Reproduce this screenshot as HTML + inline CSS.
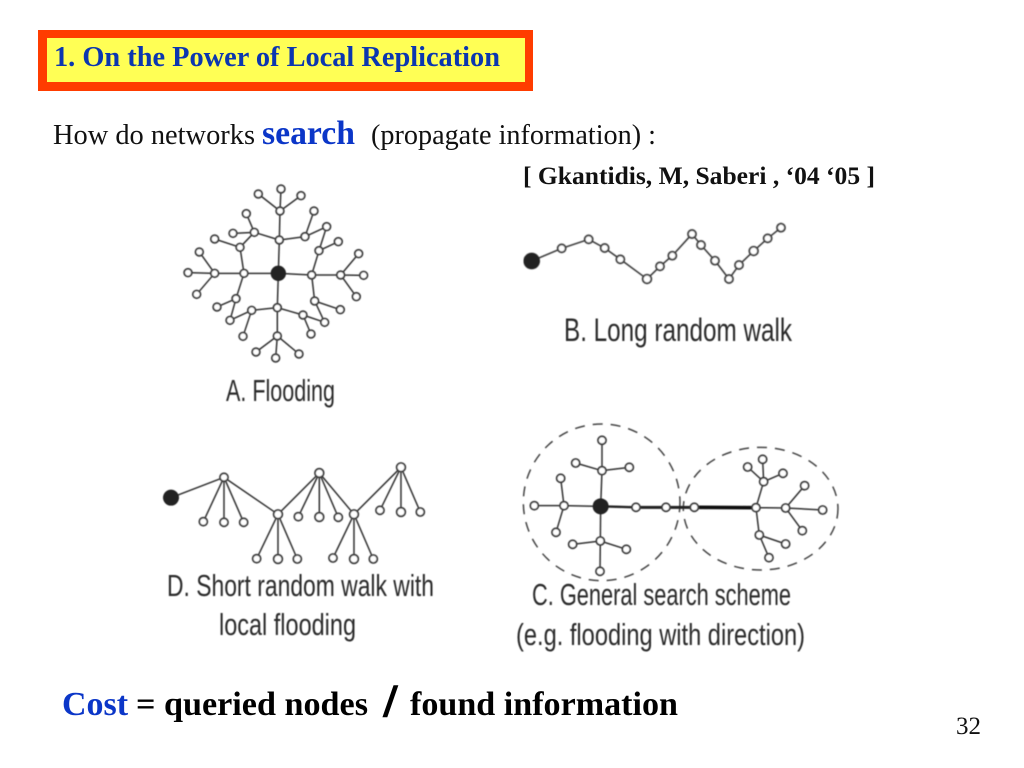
<!DOCTYPE html>
<html><head><meta charset="utf-8"><style>
html,body{margin:0;padding:0;background:#fff;width:1024px;height:768px;overflow:hidden}
svg{display:block}
.s{font-family:"Liberation Serif",serif}
.l{font-family:"Liberation Sans",sans-serif;fill:#2b2b2b}
.e{stroke:#333;stroke-width:4.5;fill:none}
.n{fill:#fff;stroke:#3c3c3c;stroke-width:5.5}
</style></head><body>
<svg width="1024" height="768" viewBox="0 0 1024 768" xmlns="http://www.w3.org/2000/svg">
<defs><filter id="b" x="-5%" y="-5%" width="110%" height="110%"><feGaussianBlur stdDeviation="0.55"/></filter></defs>
<rect width="1024" height="768" fill="#fff"/>
<rect x="38" y="30" width="495" height="61" fill="#ff3c00"/>
<rect x="47" y="38" width="478" height="44" fill="#ffff55"/>
<text class="s" x="54" y="66" font-size="28" font-weight="bold" fill="#0b36b0" textLength="446" lengthAdjust="spacingAndGlyphs">1. On the Power of Local Replication</text>
<text class="s" x="53" y="144" font-size="28" fill="#111" textLength="202" lengthAdjust="spacingAndGlyphs">How do networks</text>
<text class="s" x="262" y="144" font-size="33.5" font-weight="bold" fill="#0b36c8" textLength="93" lengthAdjust="spacingAndGlyphs">search</text>
<text class="s" x="371" y="144" font-size="28" fill="#111" textLength="285" lengthAdjust="spacingAndGlyphs">(propagate information) :</text>
<text class="s" x="523" y="184" font-size="25" font-weight="bold" fill="#111" textLength="352" lengthAdjust="spacingAndGlyphs">[ Gkantidis, M, Saberi , ‘04 ‘05 ]</text>

<g filter="url(#b)">
<!-- A -->
<g transform="translate(170,175) scale(.3333)">
<path class="e" d="M325 295L328 195M325 295L222 295M325 295L425 300M325 295L322 398M328 195L330 108M330 108L265 57M330 108L333 42M330 108L393 62M328 195L253 172M253 172L229 116M253 172L189 175M253 172L210 217M210 217L134 192M222 295L210 217M328 195L405 185M405 185L432 108M405 185L470 155M470 155L447 227M447 227L505 200M447 227L425 300M222 295L134 295M134 295L88 231M134 295L54 293M134 295L80 358M222 295L198 371M198 371L141 396M198 371L180 436M180 436L245 406M245 406L322 398M245 406L219 484M425 300L512 300M512 300L566 236M512 300L581 301M512 300L559 365M425 300L434 378M434 378L511 404M434 378L464 442M464 442L399 420M399 420L322 398M399 420L423 477M322 398L322 483M322 483L258 531M322 483L317 549M322 483L387 537"/>
<g class="n">
<circle cx="328" cy="195" r="11.5"/><circle cx="222" cy="295" r="11.5"/><circle cx="425" cy="300" r="11.5"/><circle cx="322" cy="398" r="11.5"/><circle cx="330" cy="108" r="11.5"/><circle cx="265" cy="57" r="11.5"/><circle cx="333" cy="42" r="11.5"/><circle cx="393" cy="62" r="11.5"/><circle cx="253" cy="172" r="11.5"/><circle cx="229" cy="116" r="11.5"/><circle cx="189" cy="175" r="11.5"/><circle cx="210" cy="217" r="11.5"/><circle cx="134" cy="192" r="11.5"/><circle cx="405" cy="185" r="11.5"/><circle cx="432" cy="108" r="11.5"/><circle cx="470" cy="155" r="11.5"/><circle cx="447" cy="227" r="11.5"/><circle cx="505" cy="200" r="11.5"/><circle cx="134" cy="295" r="11.5"/><circle cx="88" cy="231" r="11.5"/><circle cx="54" cy="293" r="11.5"/><circle cx="80" cy="358" r="11.5"/><circle cx="198" cy="371" r="11.5"/><circle cx="141" cy="396" r="11.5"/><circle cx="180" cy="436" r="11.5"/><circle cx="245" cy="406" r="11.5"/><circle cx="219" cy="484" r="11.5"/><circle cx="512" cy="300" r="11.5"/><circle cx="566" cy="236" r="11.5"/><circle cx="581" cy="301" r="11.5"/><circle cx="559" cy="365" r="11.5"/><circle cx="434" cy="378" r="11.5"/><circle cx="511" cy="404" r="11.5"/><circle cx="464" cy="442" r="11.5"/><circle cx="399" cy="420" r="11.5"/><circle cx="423" cy="477" r="11.5"/><circle cx="322" cy="483" r="11.5"/><circle cx="258" cy="531" r="11.5"/><circle cx="317" cy="549" r="11.5"/><circle cx="387" cy="537" r="11.5"/>
</g>
<circle cx="325" cy="295" r="23" fill="#222"/>
</g>
<!-- B -->
<g transform="translate(510,210) scale(.3333)">
<polyline class="e" points="65,153 155,115 236,88 284,114 331,148 411,207 450,169 487,137 546,72 573,105 615,152 657,207 687,165 731,123 773,85 813,53"/>
<g class="n">
<circle cx="155" cy="115" r="12"/><circle cx="236" cy="88" r="12"/><circle cx="284" cy="114" r="12"/><circle cx="331" cy="148" r="12"/><circle cx="411" cy="207" r="13"/><circle cx="450" cy="169" r="12"/><circle cx="487" cy="137" r="12"/><circle cx="546" cy="72" r="12"/><circle cx="573" cy="105" r="12"/><circle cx="615" cy="152" r="12"/><circle cx="657" cy="207" r="12"/><circle cx="687" cy="165" r="12"/><circle cx="731" cy="123" r="13"/><circle cx="773" cy="85" r="12"/><circle cx="813" cy="53" r="12"/>
</g>
<circle cx="65" cy="153" r="25" fill="#222"/>
</g>
<!-- D -->
<g transform="translate(155,455) scale(.3333)">
<path class="e" d="M48 128L207 67L369 178L493 54L597 178L738 37M207 67L145 200M207 67L207 202M207 67L266 202M369 178L305 311M369 178L369 312M369 178L427 312M493 54L430 185M493 54L493 186M493 54L550 187M597 178L534 309M597 178L597 312M597 178L655 312M738 37L675 166M738 37L738 171M738 37L796 171"/>
<g class="n">
<circle cx="207" cy="67" r="12"/><circle cx="145" cy="200" r="12"/><circle cx="207" cy="202" r="12"/><circle cx="266" cy="202" r="12"/><circle cx="369" cy="178" r="13"/><circle cx="305" cy="311" r="12"/><circle cx="369" cy="312" r="13"/><circle cx="427" cy="312" r="12"/><circle cx="493" cy="54" r="13"/><circle cx="430" cy="185" r="12"/><circle cx="493" cy="186" r="13"/><circle cx="550" cy="187" r="12"/><circle cx="597" cy="178" r="13"/><circle cx="534" cy="309" r="12"/><circle cx="597" cy="312" r="13"/><circle cx="655" cy="312" r="12"/><circle cx="738" cy="37" r="13"/><circle cx="675" cy="166" r="12"/><circle cx="738" cy="171" r="13"/><circle cx="796" cy="171" r="12"/>
</g>
<circle cx="48" cy="128" r="24" fill="#222"/>
</g>
<!-- C -->
<g transform="translate(515,425) scale(.3333)">
<circle cx="260" cy="232" r="235" fill="none" stroke="#444" stroke-width="4.5" stroke-dasharray="30 24"/>
<ellipse cx="737" cy="251" rx="232" ry="184" fill="none" stroke="#444" stroke-width="4.5" stroke-dasharray="30 24"/>
<path class="e" d="M257 244L261 137M261 137L261 46M261 137L182 114M261 137L343 127M257 244L147 242M147 242L58 242M147 242L137 160M147 242L123 322M257 244L256 348M256 348L173 358M256 348L334 373M256 348L255 439M723 248L746 170M746 170L698 126M746 170L743 103M746 170L804 145M723 248L812 249M812 249L869 182M812 249L923 255M812 249L862 317M723 248L733 330M733 330L812 357M733 330L762 398"/>
<path d="M257 244L363 247" stroke="#222" stroke-width="7" fill="none"/>
<path d="M363 247L538 247" stroke="#222" stroke-width="9" fill="none"/>
<path d="M538 247L723 248" stroke="#111" stroke-width="11" fill="none"/>
<g class="n">
<circle cx="261" cy="137" r="12"/><circle cx="261" cy="46" r="12"/><circle cx="182" cy="114" r="12"/><circle cx="343" cy="127" r="12"/><circle cx="147" cy="242" r="12"/><circle cx="58" cy="242" r="12"/><circle cx="137" cy="160" r="12"/><circle cx="123" cy="322" r="12"/><circle cx="256" cy="348" r="12"/><circle cx="173" cy="358" r="12"/><circle cx="334" cy="373" r="12"/><circle cx="255" cy="439" r="12"/><circle cx="363" cy="247" r="12"/><circle cx="453" cy="247" r="12"/><circle cx="538" cy="247" r="12"/><circle cx="723" cy="248" r="12"/><circle cx="746" cy="170" r="12"/><circle cx="698" cy="126" r="12"/><circle cx="743" cy="103" r="12"/><circle cx="804" cy="145" r="12"/><circle cx="812" cy="249" r="12"/><circle cx="869" cy="182" r="12"/><circle cx="923" cy="255" r="12"/><circle cx="862" cy="317" r="12"/><circle cx="733" cy="330" r="12"/><circle cx="812" cy="357" r="12"/><circle cx="762" cy="398" r="12"/>
</g>
<circle cx="257" cy="244" r="24" fill="#222"/>
</g>
<text class="l" x="226" y="401" font-size="31" textLength="109" lengthAdjust="spacingAndGlyphs">A. Flooding</text>
<text class="l" x="564" y="341" font-size="32" textLength="228" lengthAdjust="spacingAndGlyphs">B. Long random walk</text>
<text class="l" x="167" y="596" font-size="31" textLength="267" lengthAdjust="spacingAndGlyphs">D. Short random walk with</text>
<text class="l" x="219" y="635" font-size="31" textLength="137" lengthAdjust="spacingAndGlyphs">local flooding</text>
<text class="l" x="532" y="605" font-size="31" textLength="259" lengthAdjust="spacingAndGlyphs">C. General search scheme</text>
<text class="l" x="516" y="645" font-size="31" textLength="289" lengthAdjust="spacingAndGlyphs">(e.g. flooding with direction)</text>
</g>

<text class="s" x="62" y="715" font-size="34" font-weight="bold" fill="#0b36c8" textLength="66" lengthAdjust="spacingAndGlyphs">Cost</text>
<text class="s" x="136" y="715" font-size="34" font-weight="bold" fill="#000" textLength="232" lengthAdjust="spacingAndGlyphs">= queried nodes</text>
<text class="s" x="384" y="716" font-size="46" font-weight="bold" fill="#000" stroke="#000" stroke-width="1.6">/</text>
<text class="s" x="410" y="715" font-size="34" font-weight="bold" fill="#000" textLength="268" lengthAdjust="spacingAndGlyphs">found information</text>
<text class="s" x="956" y="734" font-size="25" fill="#111" textLength="25" lengthAdjust="spacingAndGlyphs">32</text>
</svg>
</body></html>
